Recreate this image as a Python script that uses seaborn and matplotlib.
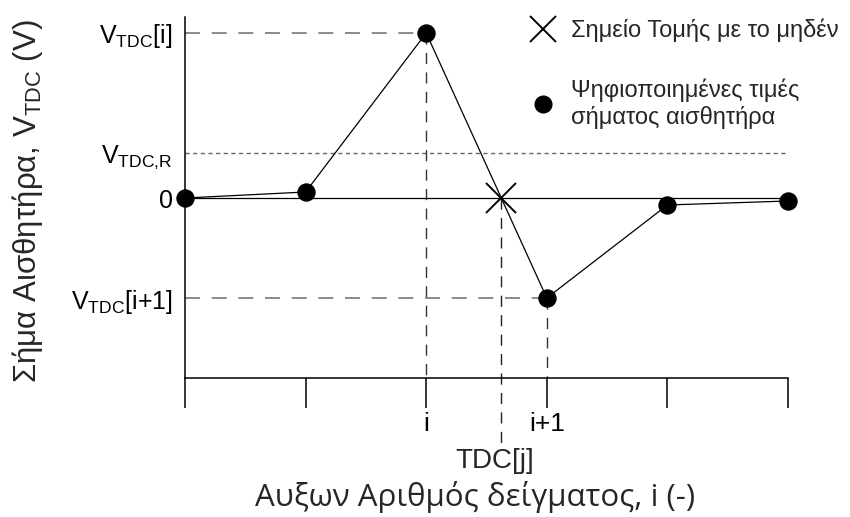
import numpy as np
import pandas as pd
import matplotlib
matplotlib.use("Agg")
import matplotlib.pyplot as plt
import seaborn as sns
from matplotlib.lines import Line2D

# ---- data ----
sample_idx = [0, 1, 2, 3, 4, 5]
signal = [0.0, 0.06, 1.65, -1.0, -0.07, -0.03]
v_ref = 0.45
x_tick_labels = ["", "", "i", "i+1", "", ""]
y_tick_vals = [1.65, 0.45, 0.0, -1.0]
y_tick_labels = [r"$\mathregular{V_{TDC}[i]}$", r"$\mathregular{V_{TDC{,}R}}$", "0",
                 r"$\mathregular{V_{TDC}[i{+}1]}$"]
legend_labels = ["Σημείο Τομής με το μηδέν", "Ψηφιοποιημένες τιμές\nσήματος αισθητήρα"]
x_label = "Αυξων Αριθμός δείγματος, i (-)"
y_label = r"Σήμα Αισθητήρα, $\mathregular{V_{TDC}}$ (V)"
tdc_label = "TDC[j]"

sns.set_style("white")
plt.rcParams["font.family"] = ["Liberation Sans", "DejaVu Sans"]
plt.rcParams["mathtext.fontset"] = "custom"
plt.rcParams["mathtext.rm"] = "Liberation Sans"

df = pd.DataFrame({"i": sample_idx, "v": signal})

fig = plt.figure(figsize=(8.5, 5.17), dpi=100)
ax = fig.add_axes([185 / 850, 1 - 378 / 517, (788 - 185) / 850, 361 / 517])
ylo, yhi = -1.80, 1.81
ax.set_xlim(sample_idx[0], sample_idx[-1])
ax.set_ylim(ylo, yhi)

# zero line
ax.plot([sample_idx[0], sample_idx[-1]], [0, 0], color="black", lw=0.9, zorder=2)
# reference dotted line
ax.plot([sample_idx[0], sample_idx[-1]], [v_ref, v_ref], color="#666666", lw=1.0,
        dashes=(3, 2.5), zorder=1)

# guide lines for samples i and i+1
i0 = 2
for k in (i0, i0 + 1):
    ax.plot([sample_idx[0], sample_idx[k]], [signal[k], signal[k]], color="#777777",
            lw=1.2, dashes=(9, 7), zorder=1)
    ax.plot([sample_idx[k], sample_idx[k]], [signal[k], ylo], color="#333333",
            lw=1.0, dashes=(8, 6), zorder=1)

# signal line and points
sns.lineplot(data=df, x="i", y="v", color="black", lw=0.9, ax=ax, zorder=3)
sns.scatterplot(data=df, x="i", y="v", color="black", s=150, edgecolor="black",
                ax=ax, zorder=4, clip_on=False)

# zero crossing
x0, y0 = sample_idx[i0], signal[i0]
x1, y1 = sample_idx[i0 + 1], signal[i0 + 1]
xc = x0 + y0 / (y0 - y1) * (x1 - x0)
tdc_bottom = -2.45
ax.plot([xc, xc], [0, tdc_bottom], color="#222222", lw=1.0, dashes=(8, 6),
        clip_on=False, zorder=1)
ax.plot([xc], [0], marker="x", color="black", markersize=21, mew=1.4, ls="none",
        zorder=5)
ax.annotate(tdc_label, xy=(xc, tdc_bottom), xytext=(-5, -13), textcoords="offset points",
            ha="center", va="center", fontsize=20, annotation_clip=False)

# axes styling
for s in ("top", "right"):
    ax.spines[s].set_visible(False)
for s in ("left", "bottom"):
    ax.spines[s].set_color("black")
    ax.spines[s].set_linewidth(1.1)
ax.set_xticks(sample_idx)
ax.set_xticklabels(x_tick_labels, fontsize=19)
ax.tick_params(axis="x", bottom=True, length=21.5, width=1.1, color="black", pad=3,
               direction="out")
ax.set_yticks(y_tick_vals)
ax.set_yticklabels(y_tick_labels, fontsize=18)
ax.tick_params(axis="y", left=False, length=0, pad=9)
ax.set_xlabel(x_label, fontsize=22.5, family=["Open Sans", "DejaVu Sans"])
ax.set_ylabel(y_label, fontsize=22.5)
ax.xaxis.label.set_va("center")
ax.yaxis.label.set_va("center")
ax.xaxis.set_label_coords((475 - 185) / 603, (378 - 497) / 361)
ax.yaxis.set_label_coords((28 - 185) / 603, 0.49)
for lab in ax.get_xticklabels() + ax.get_yticklabels():
    lab.set_color("black")

handles = [Line2D([], [], marker="x", color="black", ls="none", markersize=19, mew=1.4),
           Line2D([], [], marker="o", color="black", ls="none", markersize=12)]
fig.legend(handles, legend_labels, loc="upper left", bbox_to_anchor=(519 / 850, 1 - 9 / 517),
           frameon=False, fontsize=17, labelspacing=1.55, handletextpad=0.6,
           handlelength=1.2, borderaxespad=0)

fig.savefig("out.png", dpi=100)
